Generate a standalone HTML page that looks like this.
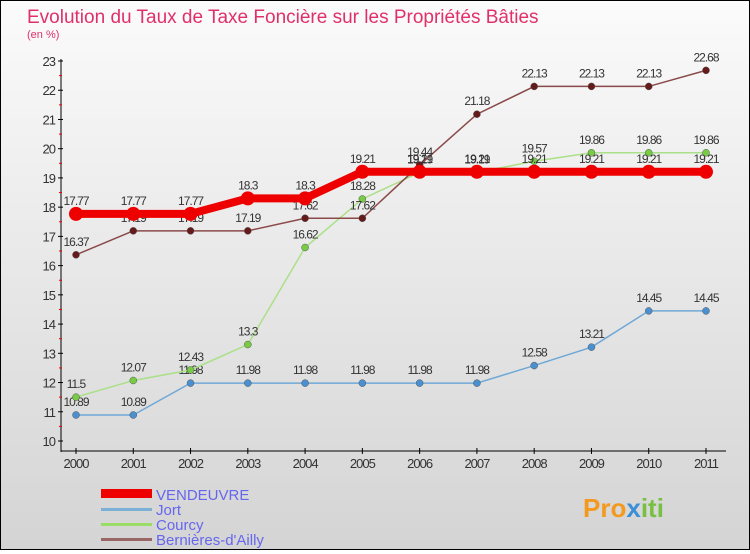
<!DOCTYPE html>
<html><head><meta charset="utf-8"><style>
body{margin:0;width:750px;height:550px;overflow:hidden;font-family:"Liberation Sans",sans-serif}
#wrap{position:relative;width:748px;height:548px;border:1px solid #000;background:linear-gradient(#fbfbfb,#d4d4d4)}
</style></head><body>
<div id="wrap">
<svg id="svg" width="748" height="548" xmlns="http://www.w3.org/2000/svg">
<text x="26" y="22" font-size="19" fill="#e0306a">Evolution du Taux de Taxe Foncière sur les Propriétés Bâties</text>
<text x="26" y="37" font-size="11" fill="#e0306a">(en %)</text>
<g id="axes"></g><g id="series"></g>
<g>
<rect x="100" y="488" width="51" height="9" fill="#e00"/>
<text x="155" y="499" font-size="15" fill="#6666ee">VENDEUVRE</text>
<rect x="100" y="507" width="51" height="3" fill="#7ab0d6"/>
<text x="155" y="514" font-size="15" fill="#6666ee">Jort</text>
<rect x="100" y="522" width="51" height="3" fill="#99dd66"/>
<text x="155" y="529" font-size="15" fill="#6666ee">Courcy</text>
<rect x="100" y="537" width="51" height="3" fill="#996666"/>
<text x="155" y="544" font-size="15" fill="#6666ee">Bernières-d'Ailly</text>
</g>
<g><text x="582" y="516" font-size="26" font-weight="bold" fill="#f39a1e">Pro<tspan fill="#3a8fd8">x</tspan><tspan fill="#77c043">iti</tspan></text></g>
</svg></div>
<script>
const years=[2000,2001,2002,2003,2004,2005,2006,2007,2008,2009,2010,2011];
const yTicks=[10,11,12,13,14,15,16,17,18,19,20,21,22,23];
const vendeuvre=[17.77,17.77,17.77,18.3,18.3,19.21,19.21,19.21,19.21,19.21,19.21,19.21];
const jort=[10.89,10.89,11.98,11.98,11.98,11.98,11.98,11.98,12.58,13.21,14.45,14.45];
const courcy=[11.5,12.07,12.43,13.3,16.62,18.28,19.19,19.19,19.57,19.86,19.86,19.86];
const bernieres=[16.37,17.19,17.19,17.19,17.62,17.62,19.44,21.18,22.13,22.13,22.13,22.68];
const NS="http://www.w3.org/2000/svg";
const X=i=>75+i*(630/11), Y=v=>440-(v-10)*(380/13);
function mk(t,a,p){const e=document.createElementNS(NS,t);for(const k in a)e.setAttribute(k,a[k]);p.appendChild(e);return e;}
const ax=document.getElementById('axes'), sg=document.getElementById('series');
let l=mk('line',{x1:60,y1:58,x2:60,y2:451,stroke:'#000'},ax);


l=mk('line',{x1:60,y1:450,x2:725,y2:450,stroke:'#000'},ax);


yTicks.forEach(v=>{
 mk('line',{x1:57,x2:62,y1:Y(v),y2:Y(v),stroke:'#000'},ax);
 if(v<23)mk('line',{x1:58,x2:61,y1:Y(v+0.5),y2:Y(v+0.5),stroke:'#e00'},ax);
 const t=mk('text',{x:54,y:Y(v)+5,'font-size':13,fill:'#333','text-anchor':'end','letter-spacing':'-1'},ax);
 t.textContent=v;
 
 
});
years.forEach((y,i)=>{
 mk('line',{x1:X(i),x2:X(i),y1:447,y2:453,stroke:'#000'},ax);
 const t=mk('text',{x:X(i),y:467,'font-size':13,fill:'#333','text-anchor':'middle','letter-spacing':'-1'},ax);
 t.textContent=y;
 
 
});
function series(name,data,color,lw,r,dot){
 const g=mk('g',{},sg);
 
 
 mk('polyline',{points:data.map((v,i)=>X(i)+','+Y(v)).join(' '),fill:'none',stroke:color,'stroke-width':lw},g);
 data.forEach((v,i)=>{
  const c=mk('circle',{cx:X(i),cy:Y(v),r:r,fill:dot,stroke:r<6?'#555':'none','stroke-width':0.5},g);
  
  
  const t=mk('text',{x:X(i),y:Y(v)-9,'font-size':12,fill:'#333','text-anchor':'middle','letter-spacing':'-1'},g);
  t.textContent=v;
  
  
 });
}
series('jort',jort,'#6fa8d6',1.5,3.5,'#4a90d0');
series('courcy',courcy,'#aae088',1.5,3.5,'#77cc44');
series('bernieres',bernieres,'#8a4a4a',1.5,3.5,'#661a1a');
series('vendeuvre',vendeuvre,'#ee0000',8,7,'#ee0000');
</script>
</body></html>
